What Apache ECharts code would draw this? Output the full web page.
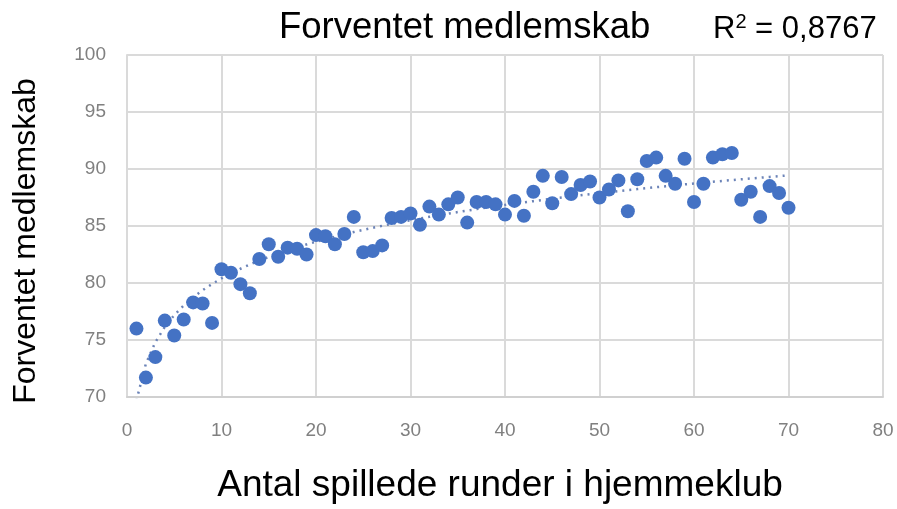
<!DOCTYPE html>
<html>
<head>
<meta charset="utf-8">
<script src="https://cdn.jsdelivr.net/npm/echarts@6/dist/echarts.min.js"></script>
<style>
html,body{margin:0;padding:0;background:#fff;}
#c{width:897px;height:509px;}
</style>
</head>
<body>
<div id="c"></div>
<script>
const rounds = [1,2,3,4,5,6,7,8,9,10,11,12,13,14,15,16,17,18,19,20,21,22,23,24,25,26,27,28,29,30,31,32,33,34,35,36,37,38,39,40,41,42,43,44,45,46,47,48,49,50,51,52,53,54,55,56,57,58,59,60,61,62,63,64,65,66,67,68,69,70];
const membership = [76.0,71.7,73.5,76.7,75.4,76.8,78.3,78.2,76.5,81.2,80.9,79.9,79.1,82.1,83.4,82.3,83.1,83.0,82.5,84.2,84.1,83.4,84.3,85.8,82.7,82.8,83.3,85.7,85.8,86.1,85.1,86.7,86.0,86.9,87.5,85.3,87.1,87.1,86.9,86.0,87.2,85.9,88.0,89.4,87.0,89.3,87.8,88.6,88.9,87.5,88.2,89.0,86.3,89.1,90.7,91.0,89.4,88.7,90.9,87.1,88.7,91.0,91.3,91.4,87.3,88.0,85.8,88.5,87.9,86.6];
const xTicks = [0,10,20,30,40,50,60,70,80];
const yTicks = [70,75,80,85,90,95,100];
const titleText = 'Forventet medlemskab';
const r2Text = '0,8767';
const xName = 'Antal spillede runder i hjemmeklub';
const yName = 'Forventet medlemskab';

// logarithmic least-squares trendline from the data
let n = rounds.length, sx=0, sy=0, sxx=0, sxy=0;
for (let i=0;i<n;i++){const lx=Math.log(rounds[i]);sx+=lx;sy+=membership[i];sxx+=lx*lx;sxy+=lx*membership[i];}
const slope=(n*sxy-sx*sy)/(n*sxx-sx*sx), icpt=(sy-slope*sx)/n;
const trend = rounds.map(x=>[x, icpt+slope*Math.log(x)]);
const points = rounds.map((x,i)=>[x, membership[i]]);

const chart = echarts.init(document.getElementById('c'), null, {renderer:'canvas'});
const font = 'Liberation Sans, Arial, sans-serif';
chart.setOption({
  animation:false,
  backgroundColor:'#fff',
  title:[
    {text:titleText,left:274,top:4,textStyle:{fontFamily:font,fontSize:36.5,fontWeight:'normal',color:'#000'}},
    {text:'{a|R}{s|2}{a| = '+r2Text+'}',left:708,top:6,textStyle:{fontWeight:'normal',rich:{
      a:{fontFamily:font,fontSize:31,fontWeight:'normal',color:'#000',lineHeight:34,verticalAlign:'bottom'},
      s:{fontFamily:font,fontSize:20,fontWeight:'normal',color:'#000',lineHeight:34,verticalAlign:'top',padding:[1,0,0,0]}}}}
  ],
  grid:{left:127,right:14,top:55,bottom:110,containLabel:false},
  xAxis:{type:'value',min:xTicks[0],max:xTicks[xTicks.length-1],interval:10,
    name:xName,nameLocation:'middle',nameGap:70,
    nameTextStyle:{fontFamily:font,fontSize:37,color:'#000',padding:[0,10,0,0]},
    axisLine:{show:true,lineStyle:{color:'#d0d0d0',width:2}},
    axisTick:{show:false},
    axisLabel:{margin:24,fontFamily:font,fontSize:19,color:'#808080'},
    splitLine:{show:true,lineStyle:{color:'#dadada',width:2}}},
  yAxis:{type:'value',min:yTicks[0],max:yTicks[yTicks.length-1],interval:5,
    name:yName,nameLocation:'middle',nameGap:85,nameRotate:90,
    nameTextStyle:{fontFamily:font,fontSize:32,color:'#000',padding:[0,30,0,0]},
    axisLine:{show:true,lineStyle:{color:'#dadada',width:2}},
    axisTick:{show:false},
    axisLabel:{margin:21,fontFamily:font,fontSize:19,color:'#808080'},
    splitLine:{show:true,lineStyle:{color:'#dadada',width:2}}},
  series:[
    {type:'line',data:trend,showSymbol:false,smooth:false,
      lineStyle:{color:'#6c84b8',width:2.5,type:[2,5]},z:2,silent:true},
    {type:'scatter',data:points,symbolSize:14,
      itemStyle:{color:'#4472c4',opacity:1},z:3}
  ]
});
</script>
</body>
</html>
